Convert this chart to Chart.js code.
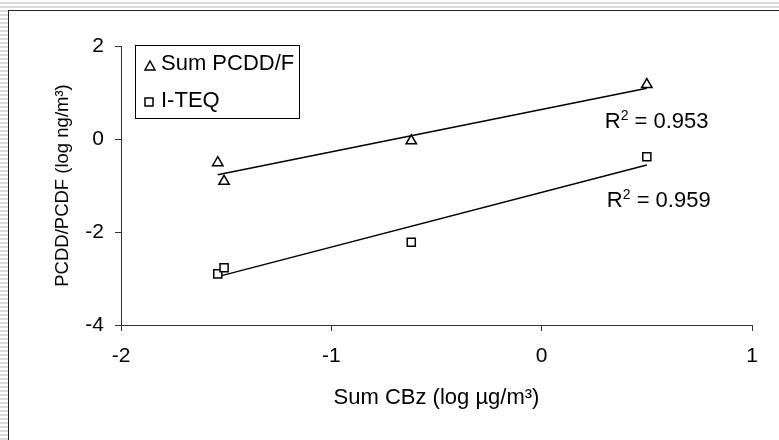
<!DOCTYPE html>
<html>
<head>
<meta charset="utf-8">
<script src="https://cdn.jsdelivr.net/npm/chart.js@4/dist/chart.umd.min.js"></script>
<style>
  html, body { margin: 0; padding: 0; }
  body {
    width: 779px; height: 440px; overflow: hidden; position: relative;
    background: repeating-linear-gradient(to bottom, #ffffff 0px, #ffffff 2px, #dadada 2px, #dadada 4px);
  }
  #frame {
    position: absolute; left: 8px; top: 10px; width: 800px; height: 460px;
    border: 1px solid #222; background: #fff;
  }
  #myChart { position: absolute; left: 0; top: 0; }
</style>
</head>
<body>
<div id="frame"></div>
<canvas id="myChart" width="779" height="440"></canvas>
<script>
// values (log units)
const pcddX = [-1.54, -1.51, -0.62, 0.50];
const pcddY = [-0.51, -0.91, -0.04, 1.17];
const iteqX = [-1.54, -1.51, -0.62, 0.50];
const iteqY = [-2.90, -2.77, -2.22, -0.38];

// trend lines (end points)
const pcddFitX = [-1.54, 0.50];
const pcddFitY = [-0.77, 1.09];
const iteqFitX = [-1.54, 0.50];
const iteqFitY = [-2.96, -0.56];

const seriesNames = ["Sum PCDD/F", "I-TEQ"];
const r2Values = ["0.953", "0.959"];

const xTickMin = -2, xTickMax = 1, xStep = 1;
const yTickMin = -4, yTickMax = 2, yStep = 2;

const FONT = "'Liberation Sans', Arial, sans-serif";

function toPoints(xs, ys) {
  const out = [];
  for (var i = 0; i < xs.length; i++) out.push({x: xs[i], y: ys[i]});
  return out;
}

function marker(ctx, style, x, y) {
  ctx.save();
  ctx.strokeStyle = '#000';
  ctx.fillStyle = '#fff';
  ctx.lineWidth = 1.5;
  ctx.beginPath();
  if (style === 'triangle') {
    ctx.moveTo(x, y - 5);
    ctx.lineTo(x + 5, y + 4);
    ctx.lineTo(x - 5, y + 4);
    ctx.closePath();
  } else {
    ctx.rect(x - 4, y - 4, 8, 8);
  }
  ctx.fill();
  ctx.stroke();
  ctx.restore();
}

// legend box inside the plot + R² notes
const extras = {
  id: 'extras',
  afterDatasetsDraw(chart) {
    const ctx = chart.ctx;
    const xs = chart.scales.x, ys = chart.scales.y;
    ctx.save();
    // legend
    ctx.strokeStyle = '#000';
    ctx.lineWidth = 1;
    ctx.strokeRect(135.5, 45.5, 164, 73);
    ctx.font = '22px ' + FONT;
    ctx.fillStyle = '#000';
    ctx.textBaseline = 'alphabetic';
    ctx.textAlign = 'left';
    marker(ctx, 'triangle', 150, 66);
    ctx.fillText(seriesNames[0], 161, 70);
    marker(ctx, 'rect', 149, 102);
    ctx.fillText(seriesNames[1], 161, 107);

    // R² labels
    const notes = [
      {x: xs.getPixelForValue(0.30), y: ys.getPixelForValue(0.24), v: r2Values[0]},
      {x: xs.getPixelForValue(0.31), y: ys.getPixelForValue(-1.46), v: r2Values[1]}
    ];
    for (var n of notes) {
      ctx.font = '22px ' + FONT;
      ctx.fillText('R', n.x, n.y);
      var w = ctx.measureText('R').width;
      ctx.font = '14px ' + FONT;
      ctx.fillText('2', n.x + w, n.y - 8);
      var w2 = ctx.measureText('2').width;
      ctx.font = '22px ' + FONT;
      ctx.fillText(' = ' + n.v, n.x + w + w2, n.y);
    }
    ctx.restore();
  }
};

var ctx = document.getElementById("myChart").getContext("2d");

var chart = new Chart(ctx, {
  type: 'scatter',
  data: {
    datasets: [
      {
        label: seriesNames[0],
        data: toPoints(pcddX, pcddY),
        pointStyle: 'triangle',
        pointRadius: 6,
        pointBorderWidth: 1.5,
        pointBorderColor: '#000',
        pointBackgroundColor: '#fff'
      },
      {
        label: seriesNames[1],
        data: toPoints(iteqX, iteqY),
        pointStyle: 'rect',
        pointRadius: 5.7,
        pointBorderWidth: 1.5,
        pointBorderColor: '#000',
        pointBackgroundColor: '#fff'
      },
      {
        label: 'fit1',
        data: toPoints(pcddFitX, pcddFitY),
        showLine: true,
        pointRadius: 0,
        borderColor: '#000',
        borderWidth: 1.5
      },
      {
        label: 'fit2',
        data: toPoints(iteqFitX, iteqFitY),
        showLine: true,
        pointRadius: 0,
        borderColor: '#000',
        borderWidth: 1.5
      }
    ]
  },
  options: {
    responsive: false,
    animation: false,
    devicePixelRatio: 1,
    layout: { padding: { top: 46, right: 27, left: 0, bottom: 0 } },
    plugins: {
      legend: { display: false },
      tooltip: { enabled: false }
    },
    scales: {
      x: {
        type: 'linear',
        min: xTickMin, max: xTickMax,
        ticks: { stepSize: xStep, color: '#000', font: { family: FONT, size: 21 }, padding: 13 },
        grid: { drawOnChartArea: false, tickLength: 6, color: '#333' },
        border: { color: '#333' },
        title: { display: true, text: 'Sum CBz (log µg/m³)', color: '#000',
                 font: { family: FONT, size: 22 }, padding: { top: 0, bottom: 29 } },
        afterFit: function(s) { s.height = 115; }
      },
      y: {
        type: 'linear',
        min: yTickMin, max: yTickMax,
        ticks: { stepSize: yStep, color: '#000', font: { family: FONT, size: 21 }, padding: 11 },
        grid: { drawOnChartArea: false, tickLength: 6, color: '#333' },
        border: { color: '#333' },
        title: { display: true, text: 'PCDD/PCDF (log ng/m³)', color: '#000',
                 font: { family: FONT, size: 18.5 }, padding: { top: 52, bottom: 0 } },
        afterFit: function(s) { s.width = 121; }
      }
    }
  },
  plugins: [extras]
});
</script>
</body>
</html>
